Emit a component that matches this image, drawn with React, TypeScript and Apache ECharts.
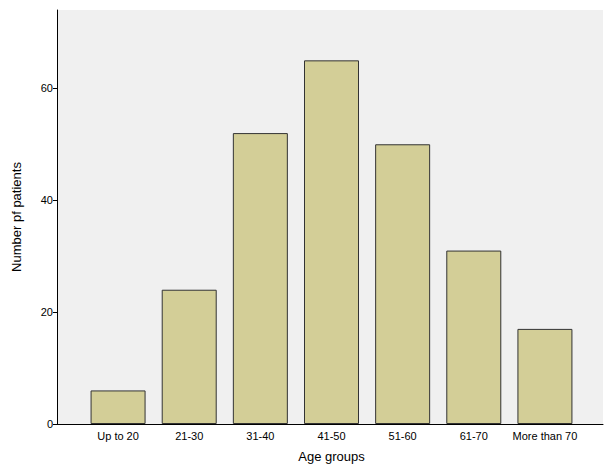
import { useEffect, useRef } from "react";
import * as echarts from "echarts";

const categories = ["Up to 20", "21-30", "31-40", "41-50", "51-60", "61-70", "More than 70"];
const patients = [6, 24, 52, 65, 50, 31, 17];

export default function App() {
  const chartRef = useRef<HTMLDivElement>(null);

  useEffect(() => {
    if (!chartRef.current) return;
    const chart = echarts.init(chartRef.current, undefined, { renderer: "svg" });
    const font = "Arial, 'Liberation Sans', sans-serif";
    chart.setOption({
      animation: false,
      textStyle: { fontFamily: font },
      grid: [
        { left: 57, right: 10, top: 10, bottom: 41, show: true, backgroundColor: "#f0f0f0", borderWidth: 0, outerBoundsMode: "none" },
        { left: 82.5, right: 32.5, top: 10, bottom: 41, outerBoundsMode: "none" },
      ],
      xAxis: [
        {
          gridIndex: 0, type: "value", min: 0, max: 1,
          axisLine: { show: true, lineStyle: { color: "#000" } },
          axisTick: { show: false }, axisLabel: { show: false }, splitLine: { show: false },
        },
        {
          gridIndex: 1, type: "category", data: categories,
          name: "Age groups", nameLocation: "middle", nameGap: 26,
          nameTextStyle: { color: "#000", fontSize: 13 },
          axisLine: { show: false },
          axisTick: { alignWithLabel: true, length: 4, lineStyle: { color: "#000" } },
          axisLabel: { color: "#000", fontSize: 11, interval: 0, margin: 6 },
        },
      ],
      yAxis: [
        { gridIndex: 0, type: "value", show: false, min: 0, max: 1 },
        {
          gridIndex: 1, type: "value", min: 0, max: 74, interval: 20, offset: 25.5,
          name: "Number pf patients", nameLocation: "middle", nameGap: 34,
          nameTextStyle: { color: "#000", fontSize: 13 },
          axisLine: { show: true, lineStyle: { color: "#000" } },
          axisTick: { show: true, length: 4, lineStyle: { color: "#000" } },
          axisLabel: { color: "#000", fontSize: 11, margin: 4, showMaxLabel: false },
          splitLine: { show: false },
        },
      ],
      series: [
        {
          type: "bar", xAxisIndex: 1, yAxisIndex: 1, data: patients, barWidth: 55,
          itemStyle: { color: "#d3ce97", borderColor: "#333", borderWidth: 1 },
        },
      ],
    });
    return () => chart.dispose();
  }, []);

  return <div ref={chartRef} style={{ width: 613, height: 465, position: "absolute", left: 0, top: 0 }} />;
}
